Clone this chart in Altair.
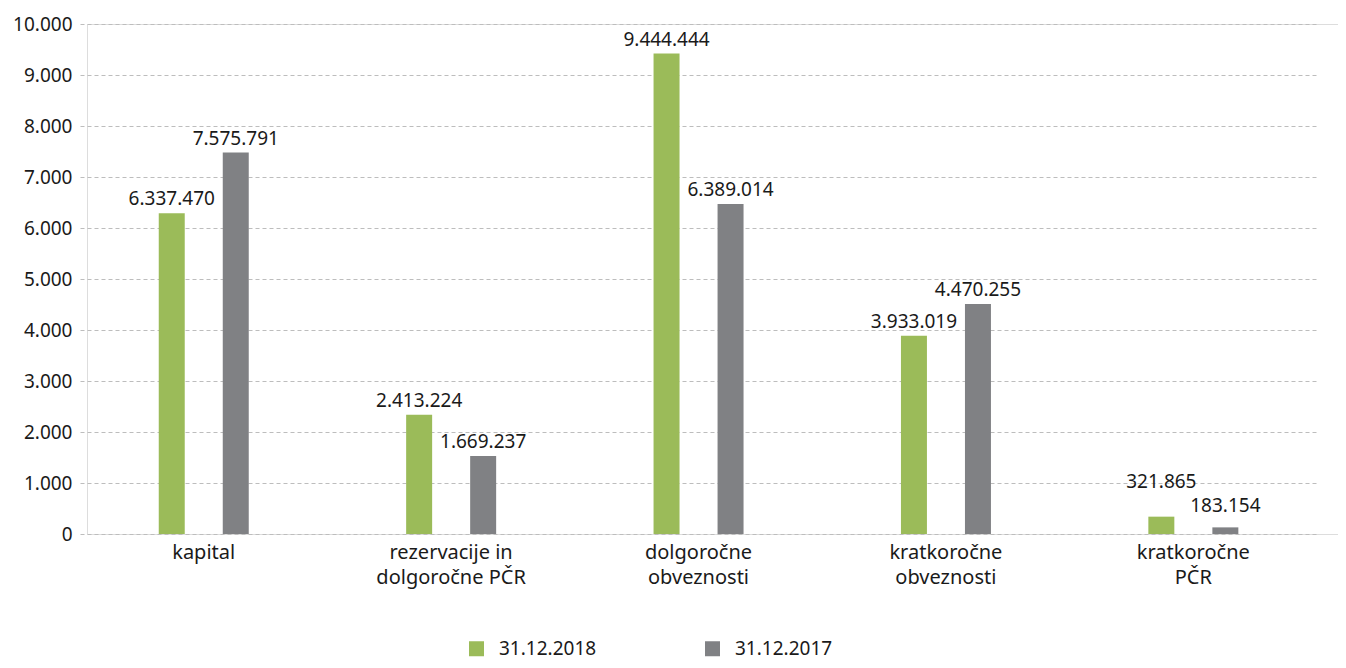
import altair as alt
import pandas as pd

categories = [
    "kapital",
    "rezervacije in\ndolgoročne PČR",
    "dolgoročne\nobveznosti",
    "kratkoročne\nobveznosti",
    "kratkoročne\nPČR",
]
series = ["31.12.2018", "31.12.2017"]
# bar heights (thousands) as drawn in the picture
values_2018 = [6290, 2340, 9420, 3885, 340]
values_2017 = [7480, 1530, 6470, 4510, 130]
# data labels as printed
labels_2018 = ["6.337.470", "2.413.224", "9.444.444", "3.933.019", "321.865"]
labels_2017 = ["7.575.791", "1.669.237", "6.389.014", "4.470.255", "183.154"]
colors = ["#9BBB59", "#808184"]

rows = []
for i, c in enumerate(categories):
    rows.append({"cat": c, "series": series[0], "value": values_2018[i], "label": labels_2018[i]})
    rows.append({"cat": c, "series": series[1], "value": values_2017[i], "label": labels_2017[i]})
df = pd.DataFrame(rows)

FONT = "Noto Sans"

x = alt.X(
    "cat:N",
    sort=categories,
    title=None,
    scale=alt.Scale(range=[-7, 1230], paddingInner=0, paddingOuter=0),
    axis=alt.Axis(
        domain=False,
        ticks=False,
        labelAngle=0,
        labelFontSize=20,
        labelFont=FONT,
        labelColor="#1a1a1a",
        labelPadding=8,
        labelLineHeight=25,
        labelExpr="split(datum.label, '\\n')",
    ),
)
xo = alt.XOffset(
    "series:N",
    sort=series,
    scale=alt.Scale(domain=series, range=[78.75, 168.75], paddingInner=0.594, paddingOuter=0),
)
yscale = alt.Scale(domain=[0, 10000], nice=False)
y = alt.Y(
    "value:Q",
    title=None,
    scale=yscale,
    axis=alt.Axis(
        values=list(range(0, 10001, 1000)),
        domain=False,
        ticks=False,
        labelFontSize=19,
        labelFont=FONT,
        labelColor="#1a1a1a",
        labelPadding=15,
        labelExpr="replace(format(datum.value, ','), ',', '.')",
        grid=True,
        gridColor="#bdbdbd",
        gridDash=[4, 3],
        gridWidth=1,
    ),
)

bars = alt.Chart(df).mark_bar().encode(
    x=x,
    xOffset=xo,
    y=y,
    color=alt.Color(
        "series:N",
        sort=series,
        scale=alt.Scale(domain=series, range=colors),
        legend=alt.Legend(
            title=None,
            orient="none",
            direction="horizontal",
            legendX=380,
            legendY=615,
            symbolType="square",
            symbolSize=225,
            symbolStrokeWidth=0,
            labelFontSize=19,
            labelFont=FONT,
            labelColor="#1a1a1a",
            labelOffset=13,
            columnPadding=106,
            padding=0,
        ),
    ),
)

# small bars get their labels lifted clear of each other, as in the source
text = alt.Chart(df).transform_calculate(
    ly="datum.value < 500 ? datum.value + (datum.series == '31.12.2018' ? 410 : 150) : datum.value"
).mark_text(
    baseline="alphabetic", dy=-8, fontSize=19, font=FONT, color="#1a1a1a"
).encode(x=x, xOffset=xo, y=alt.Y("ly:Q", scale=yscale), text="label:N")

chart = (
    alt.layer(bars, text)
    .properties(
        width=1251,
        height=510,
        autosize=alt.AutoSizeParams(type="none"),
        padding={"left": 79, "top": 16, "right": 0, "bottom": 126},
    )
    .configure_view(stroke=None)
    .configure(background="white")
)

chart.save("out.html", embed_options={"renderer": "svg", "actions": False})
